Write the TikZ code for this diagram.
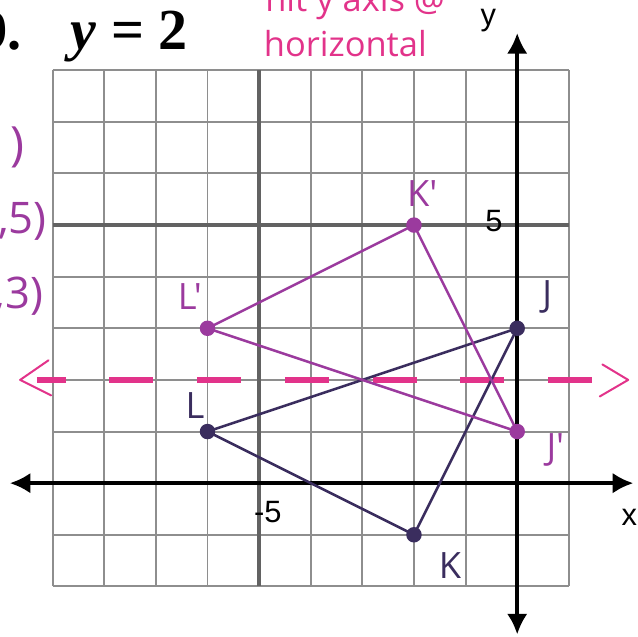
\documentclass[tikz,border=0pt]{standalone}
\usepackage{fontspec}
\setmainfont{Liberation Serif}
\newfontfamily\axisfont{Liberation Sans}
\newfontfamily\handfont{Open Sans}
\usetikzlibrary{arrows.meta,calc}
\definecolor{GridGray}{HTML}{8E8E8E}
\definecolor{RuleGray}{HTML}{626262}
\definecolor{PenPink}{HTML}{E2338A}
\definecolor{PenPurple}{HTML}{9B3A9E}
\definecolor{PenNavy}{HTML}{3A2D5E}

\begin{document}
\begin{tikzpicture}[
    vtx/.style={circle,fill,inner sep=0pt,minimum size=3mm},
    penlabel/.style={font=\handfont\fontsize{20}{22}\selectfont,inner sep=0pt},
    axislabel/.style={font=\axisfont\fontsize{17}{19}\selectfont,inner sep=0pt},
    axisline/.style={line width=2pt,{Latex[length=4mm,width=4mm]}-{Latex[length=4mm,width=4mm]}},
    edge/.style={line width=1.4pt,line join=round}
  ]
  \clip (-10.02,-2.98) rectangle (2.34,9.36);
  % grid
  \foreach \c in {-9,...,1}{
    \draw[GridGray,line width=1.1pt] (\c,-2) -- (\c,8);
  }
  \foreach \r in {-2,...,8}{
    \draw[GridGray,line width=1.1pt] (-9,\r) -- (1,\r);
  }
  \draw[RuleGray,line width=1.8pt] (-5,-2) -- (-5,8);
  \draw[RuleGray,line width=1.8pt] (-9,5) -- (1,5);
  % axes
  \coordinate (xleft) at (-9.83,0);
  \coordinate (xright) at (2.25,0);
  \coordinate (ytop) at (0,8.72);
  \coordinate (ybot) at (0,-2.93);
  \draw[axisline] (xleft) -- (xright);
  \draw[axisline] (ybot) -- (ytop);
  \node[axislabel] (ylbl) at (-0.56,8.97) {y};
  \node[axislabel] (xlbl) at (2.17,-0.66) {x};
  \node[axislabel] (five) at (-0.45,5.08) {5};
  \node[axislabel] (mfive) at (-4.83,-0.56) {-5};
  % line of reflection y = 2
  \coordinate (mleft) at (-9.63,2);
  \coordinate (mright) at (2.15,2);
  \draw[PenPink,line width=3.2pt,dash pattern=on 0.85cm off 0.85cm,dash phase=0.3cm]
    (-9.3,2) -- (1.8,2);
  \draw[PenPink,line width=1.1pt,line cap=round,line join=round]
    ($(mleft)+(0.55,0.38)$) -- (mleft) -- ($(mleft)+(0.6,-0.3)$);
  \draw[PenPink,line width=1.1pt,line cap=round,line join=round]
    ($(mright)+(-0.5,0.3)$) -- (mright) -- ($(mright)+(-0.55,-0.32)$);
  % triangle JKL
  \node[vtx,PenNavy] (J) at (0,3) {};
  \node[vtx,PenNavy] (K) at (-2,-1) {};
  \node[vtx,PenNavy] (L) at (-6,1) {};
  \draw[edge,PenNavy] (J.center) -- (K.center) -- (L.center) -- cycle;
  % image J'K'L'
  \node[vtx,PenPurple] (Jp) at (0,1) {};
  \node[vtx,PenPurple] (Kp) at (-2,5) {};
  \node[vtx,PenPurple] (Lp) at (-6,3) {};
  \draw[edge,PenPurple] (Jp.center) -- (Kp.center) -- (Lp.center) -- cycle;
  % vertex labels
  \node[penlabel,PenNavy] (Jlbl) at (0.58,3.6) {J};
  \node[penlabel,PenNavy] (Klbl) at (-1.3,-1.59) {K};
  \node[penlabel,PenNavy] (Llbl) at (-6.24,1.51) {L};
  \node[penlabel,PenPurple] (Jplbl) at (0.74,0.64) {J'};
  \node[penlabel,PenPurple] (Kplbl) at (-1.84,5.62) {K'};
  \node[penlabel,PenPurple] (Lplbl) at (-6.34,3.62) {L'};
  % heading
  \node[anchor=base east,inner sep=0pt,font=\fontsize{31}{34}\selectfont\bfseries] (num) at (-9.6,8.4) {9.};
  \node[anchor=base west,inner sep=0pt,font=\fontsize{32}{34}\selectfont\bfseries] (eqn) at (-8.66,8.4) {\textit{y} = 2};
  \node[anchor=base,inner sep=0pt,PenPink,font=\handfont\fontsize{19}{21}\selectfont] (note2) at (-3.33,8.26) {horizontal};
  \node[anchor=base,inner sep=0pt,PenPink,font=\handfont\fontsize{19}{21}\selectfont] (note1) at (-3.14,9.13) {hit y axis @};
  % image coordinates, cut at the edge
  \node[anchor=east,inner sep=0pt,PenPurple,font=\handfont\fontsize{26}{28}\selectfont] (cJp) at (-9.53,6.5) {J'(0,1)};
  \node[anchor=east,inner sep=0pt,PenPurple,font=\handfont\fontsize{24}{28}\selectfont] (cKp) at (-9.11,5.08) {K'(-2,5)};
  \node[anchor=east,inner sep=0pt,PenPurple,font=\handfont\fontsize{24}{28}\selectfont] (cLp) at (-9.18,3.62) {L'(-6,3)};
\end{tikzpicture}
\end{document}
